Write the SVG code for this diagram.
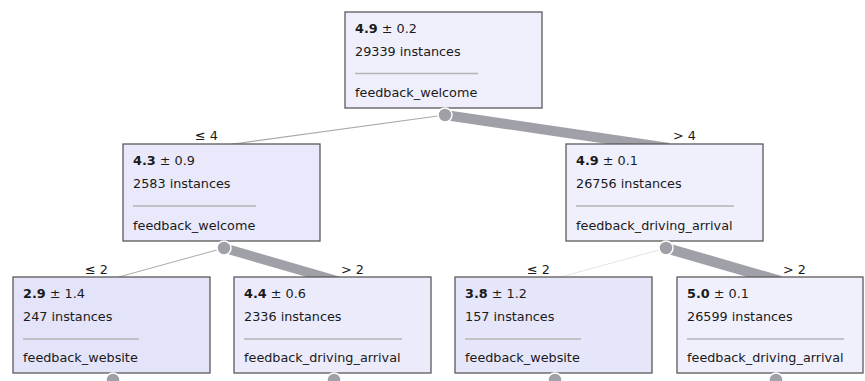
<svg xmlns="http://www.w3.org/2000/svg" width="865" height="381" viewBox="0 0 865 381">
<style>
text{font-family:"DejaVu Sans","Liberation Sans",sans-serif;font-size:12.8px;fill:#1a1a1a}
.b{font-weight:bold}
.box{stroke:#5a5a5a;stroke-width:1.3}
.sep{stroke:#b4b4b4;stroke-width:1.5}
.dot{fill:#a0a0a8;stroke:#ffffff;stroke-width:1.5}
.e{fill:none;stroke:#a0a0a8;stroke-linecap:butt}
.lbl{font-size:12.8px}
</style>
<rect width="865" height="381" fill="#ffffff"/>
<g id="connectors">
<line class="e" x1="445" y1="115" x2="226" y2="145" style="stroke:#aaaaaa;stroke-width:1.2"/>
<line class="e" x1="445" y1="115" x2="669" y2="148" style="stroke-width:10"/>
<line class="e" x1="224" y1="248" x2="115" y2="278" style="stroke:#aaaaaa;stroke-width:1"/>
<line class="e" x1="224" y1="248" x2="338" y2="281" style="stroke-width:9.5"/>
<line class="e" x1="666" y1="248" x2="557" y2="278" style="stroke:#dcdcdc;stroke-width:0.8"/>
<line class="e" x1="666" y1="248" x2="780" y2="281" style="stroke-width:10.5"/>
<text class="lbl" x="218" y="140" text-anchor="end">≤ 4</text>
<text class="lbl" x="673" y="140">&gt; 4</text>
<text class="lbl" x="108" y="273.5" text-anchor="end">≤ 2</text>
<text class="lbl" x="341" y="273.5">&gt; 2</text>
<text class="lbl" x="550" y="273.5" text-anchor="end">≤ 2</text>
<text class="lbl" x="783" y="273.5">&gt; 2</text>
</g>
<g id="node-root">
<rect class="box" x="345" y="12" width="197" height="96" fill="#efeffc"/>
<text x="355" y="33"><tspan class="b">4.9</tspan> ± 0.2</text>
<text x="355" y="55.5">29339 instances</text>
<line class="sep" x1="355" y1="73.5" x2="478" y2="73.5"/>
<text x="355" y="97">feedback_welcome</text>
<circle class="dot" cx="445" cy="115" r="7"/>
</g>
<g id="node-l">
<rect class="box" x="123" y="144" width="197" height="97" fill="#e9e9fb"/>
<text x="133" y="165"><tspan class="b">4.3</tspan> ± 0.9</text>
<text x="133" y="187.5">2583 instances</text>
<line class="sep" x1="133" y1="206" x2="256" y2="206"/>
<text x="133" y="230">feedback_welcome</text>
<circle class="dot" cx="224" cy="248" r="7"/>
</g>
<g id="node-r">
<rect class="box" x="566" y="144" width="197" height="97" fill="#f0f0fd"/>
<text x="576" y="165"><tspan class="b">4.9</tspan> ± 0.1</text>
<text x="576" y="187.5">26756 instances</text>
<line class="sep" x1="576" y1="206" x2="734" y2="206"/>
<text x="576" y="230">feedback_driving_arrival</text>
<circle class="dot" cx="666" cy="248" r="7"/>
</g>
<g id="node-ll">
<rect class="box" x="13" y="277" width="197" height="96" fill="#e3e3f9"/>
<text x="23" y="298"><tspan class="b">2.9</tspan> ± 1.4</text>
<text x="23" y="320.5">247 instances</text>
<line class="sep" x1="23" y1="339" x2="139" y2="339"/>
<text x="23" y="362">feedback_website</text>
<circle class="dot" cx="113" cy="380" r="7"/>
</g>
<g id="node-lr">
<rect class="box" x="234" y="277" width="197" height="96" fill="#ebebfb"/>
<text x="244" y="298"><tspan class="b">4.4</tspan> ± 0.6</text>
<text x="244" y="320.5">2336 instances</text>
<line class="sep" x1="244" y1="339" x2="402" y2="339"/>
<text x="244" y="362">feedback_driving_arrival</text>
<circle class="dot" cx="334" cy="380" r="7"/>
</g>
<g id="node-rl">
<rect class="box" x="455" y="277" width="197" height="96" fill="#e6e6fa"/>
<text x="465" y="298"><tspan class="b">3.8</tspan> ± 1.2</text>
<text x="465" y="320.5">157 instances</text>
<line class="sep" x1="465" y1="339" x2="581" y2="339"/>
<text x="465" y="362">feedback_website</text>
<circle class="dot" cx="555" cy="380" r="7"/>
</g>
<g id="node-rr">
<rect class="box" x="677" y="277" width="186" height="96" fill="#f0f0fd"/>
<text x="687" y="298"><tspan class="b">5.0</tspan> ± 0.1</text>
<text x="687" y="320.5">26599 instances</text>
<line class="sep" x1="687" y1="339" x2="844" y2="339"/>
<text x="687" y="362">feedback_driving_arrival</text>
<circle class="dot" cx="776" cy="380" r="7"/>
</g>
</svg>
